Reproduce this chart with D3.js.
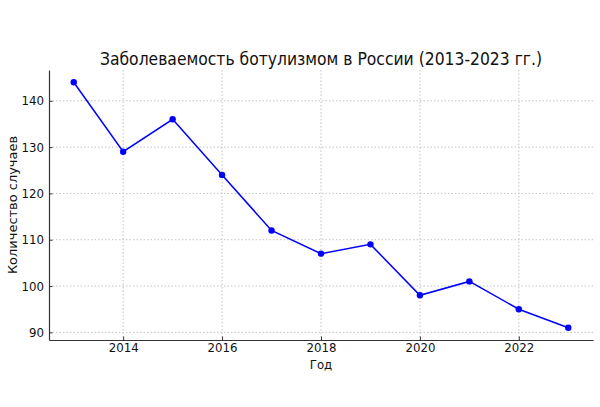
<!DOCTYPE html>
<html><head><meta charset="utf-8">
<script src="https://cdn.jsdelivr.net/npm/d3@7"></script>
<style>body{margin:0;background:#fff}svg{display:block;font-family:"DejaVu Sans",sans-serif}</style>
</head><body><svg id="c" width="600" height="407"></svg>
<script>
const years = [2013,2014,2015,2016,2017,2018,2019,2020,2021,2022,2023];
const cases = [144,129,136,124,112,107,109,98,101,95,91];
const xTicks = [2014,2016,2018,2020,2022];
const yTicks = [90,100,110,120,130,140];
const title = "Заболеваемость ботулизмом в России (2013-2023 гг.)";
const xLabel = "Год";
const yLabel = "Количество случаев";

const svg = d3.select("#c");
const L=49, R=593, T=70, B=340;
const SY = 1.1;
const x = d3.scaleLinear().domain([2012.5,2023.5]).range([L,R]);
const y = d3.scaleLinear().domain([88.35,146.65]).range([B,T]);

const grid = svg.append("g").attr("stroke","#bdbdbd").attr("stroke-width",0.9).attr("stroke-dasharray","1.5,2");
grid.selectAll(".gx").data(xTicks).join("line").attr("x1",d=>x(d)).attr("x2",d=>x(d)).attr("y1",T).attr("y2",B);
grid.selectAll(".gy").data(yTicks).join("line").attr("y1",d=>y(d)).attr("y2",d=>y(d)).attr("x1",L).attr("x2",R);

const xa = svg.append("g").attr("transform",`translate(0,${B})`)
  .call(d3.axisBottom(x).tickValues(xTicks).tickFormat(d3.format("d")).tickSizeInner(-3.5).tickSizeOuter(0).tickPadding(2.5));
const ya = svg.append("g").attr("transform",`translate(${L},0)`)
  .call(d3.axisLeft(y).tickValues(yTicks).tickSizeInner(-3.5).tickSizeOuter(0).tickPadding(5));
[xa,ya].forEach(a=>{
  a.select(".domain").attr("stroke","#333").attr("stroke-width",1.2);
  a.selectAll(".tick line").attr("stroke","#333");
  a.selectAll("text").attr("font-size",11.8).attr("fill","#111").attr("font-family","DejaVu Sans")
    .attr("transform",`scale(1,${SY})`);
});

const line = d3.line().x((d,i)=>x(years[i])).y(d=>y(d));
svg.append("path").datum(cases).attr("d",line).attr("fill","none").attr("stroke","#0000ff").attr("stroke-width",1.5);
svg.selectAll(".pt").data(cases).join("circle").attr("cx",(d,i)=>x(years[i])).attr("cy",d=>y(d)).attr("r",3.2).attr("fill","#0000ff");

svg.append("text").attr("transform",`translate(${(L+R)/2},65) scale(1,${SY})`).attr("text-anchor","middle").attr("font-size",15.6).attr("fill","#111").text(title);
svg.append("text").attr("transform",`translate(${(L+R)/2},369) scale(1,${SY})`).attr("text-anchor","middle").attr("font-size",11.8).attr("fill","#111").text(xLabel);
svg.append("text").attr("transform",`translate(17,${(T+B)/2}) rotate(-90) scale(1.1,1)`).attr("text-anchor","middle").attr("font-size",11.8).attr("fill","#111").text(yLabel);
</script></body></html>
